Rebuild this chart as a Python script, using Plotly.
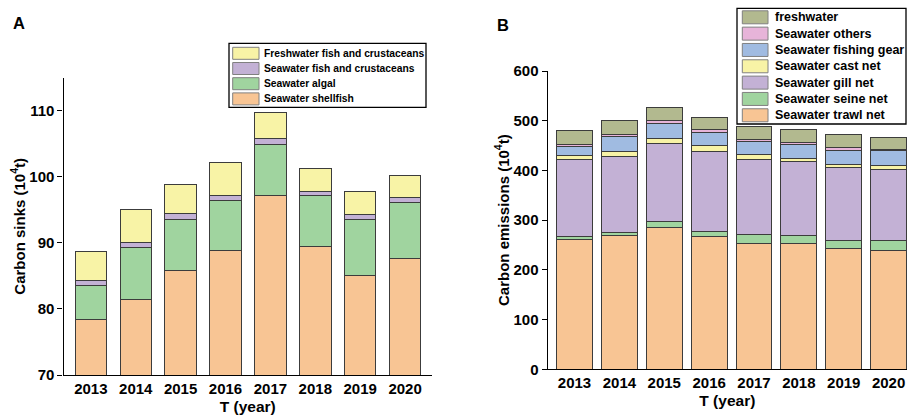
import plotly.graph_objects as go

W, H = 907, 415

years = ["2013", "2014", "2015", "2016", "2017", "2018", "2019", "2020"]

# Panel A: carbon sinks (10^4 t)
sink_shellfish = [78.4, 81.4, 85.8, 88.9, 97.2, 89.4, 85.1, 87.7]
sink_algal = [5.1, 7.9, 7.8, 7.5, 7.75, 7.7, 8.4, 8.4]
sink_sea_fish = [0.8, 0.8, 0.8, 0.8, 0.8, 0.7, 0.8, 0.8]
sink_fresh_fish = [4.4, 4.9, 4.4, 4.9, 3.95, 3.5, 3.5, 3.3]

sink_names = ["Seawater shellfish", "Seawater algal",
              "Seawater fish and crustaceans", "Freshwater fish and crustaceans"]
sink_series = [sink_shellfish, sink_algal, sink_sea_fish, sink_fresh_fish]

# Panel B: carbon emissions (10^4 t)
emi_trawl = [262, 269, 286, 267, 254, 254, 242, 239]
emi_seine = [5, 7, 12, 11, 17, 16, 18, 20]
emi_gill = [154, 153, 157, 161, 152, 148, 145, 143]
emi_cast = [10, 9, 10, 12, 9, 6, 6, 8]
emi_gear = [17, 30, 29, 26, 26, 29, 30, 30]
emi_others = [4, 3.5, 6, 5, 4, 4, 5, 3]
emi_fresh = [28, 28.5, 26, 25, 26, 26, 27, 24]

emi_names = ["Seawater trawl net", "Seawater seine net", "Seawater gill net",
             "Seawater cast net", "Seawater fishing gear", "Seawater others",
             "freshwater"]
emi_series = [emi_trawl, emi_seine, emi_gill, emi_cast, emi_gear, emi_others, emi_fresh]

ORANGE = "#F8C594"
GREEN = "#A0D49F"
PURPLE = "#C3B1D5"
YELLOW = "#F8F3A6"
BLUE = "#A0BBE1"
PINK = "#E7B4D9"
OLIVE = "#B2B98F"

sink_colors = [ORANGE, GREEN, PURPLE, YELLOW]
emi_colors = [ORANGE, GREEN, PURPLE, YELLOW, BLUE, PINK, OLIVE]

FONT = "Liberation Sans, Arial, sans-serif"
EDGE = "#3c3c3c"


def px(x):
    return x / W


def py(y):
    return 1 - y / H


fig = go.Figure()

for name, vals, col in zip(sink_names, sink_series, sink_colors):
    fig.add_trace(go.Bar(x=years, y=vals, name=name, width=0.7,
                         marker=dict(color=col, line=dict(color=EDGE, width=1)),
                         xaxis="x", yaxis="y", showlegend=False))

for name, vals, col in zip(emi_names, emi_series, emi_colors):
    fig.add_trace(go.Bar(x=years, y=vals, name=name, width=0.8,
                         marker=dict(color=col, line=dict(color=EDGE, width=1)),
                         xaxis="x2", yaxis="y2", showlegend=False))

tick_font = dict(family=FONT, size=15, color="black", weight="bold")
title_font = dict(family=FONT, size=15.5, color="black", weight="bold")
ytitle_font = dict(family=FONT, size=15, color="black", weight="bold")

common_x = dict(type="category", showline=True, linecolor="black", linewidth=1.3,
                ticks="", showgrid=False, zeroline=False, tickfont=tick_font,
                title_font=title_font, automargin=False)
common_y = dict(showline=True, linecolor="black", linewidth=1.3, ticks="outside",
                ticklen=5, tickwidth=1.3, tickcolor="black", showgrid=False,
                zeroline=False, tickfont=tick_font, title_font=ytitle_font,
                automargin=False)

fig.update_layout(
    template="none",
    width=W, height=H, autosize=False,
    margin=dict(l=0, r=0, t=0, b=0, pad=0),
    paper_bgcolor="white", plot_bgcolor="white",
    barmode="stack", bargap=0.3,
    font=dict(family=FONT, color="black"),
    xaxis=dict(common_x, domain=[px(63.5), px(432)], range=[-0.609, 7.60],
               anchor="y", title=dict(text="T (year)", standoff=4)),
    yaxis=dict(common_y, domain=[py(375), py(77.7)], range=[70, 115], dtick=10,
               anchor="x", title=dict(text="Carbon sinks (10<sup>4</sup>t)", standoff=0)),
    xaxis2=dict(common_x, domain=[px(547.7), 1.0], range=[-0.598, 7.41],
                anchor="y2", title=dict(text="T (year)", standoff=4)),
    yaxis2=dict(common_y, domain=[py(369.3), py(71)], range=[0, 600], dtick=100,
                anchor="x2", title=dict(text="Carbon emissions (10<sup>4</sup>t)", standoff=0)),
)

shapes = []
annotations = []


def draw_legend(names, colors, box, row0, step, sw_x, sw_h, text_x, fsize):
    x0, y0, x1, y1 = box
    shapes.append(dict(type="rect", xref="paper", yref="paper",
                       x0=px(x0), x1=px(x1), y0=py(y1), y1=py(y0),
                       line=dict(color="black", width=1.3), fillcolor="white"))
    # entries listed top-down in reverse stacking order
    for i, (name, col) in enumerate(zip(names[::-1], colors[::-1])):
        yc = row0 + i * step
        shapes.append(dict(type="rect", xref="paper", yref="paper",
                           x0=px(sw_x[0]), x1=px(sw_x[1]),
                           y0=py(yc + sw_h / 2), y1=py(yc - sw_h / 2),
                           line=dict(color="#808080", width=1), fillcolor=col))
        annotations.append(dict(xref="paper", yref="paper", x=px(text_x), y=py(yc),
                                xanchor="left", yanchor="middle", showarrow=False,
                                text=name,
                                font=dict(family=FONT, size=fsize, color="black",
                                          weight="bold")))


draw_legend(sink_names, sink_colors, (229, 43.3, 426, 107.3), 53.3, 15.2,
            (232.7, 259), 12, 262, 10.3)
draw_legend(emi_names, emi_colors, (737, 8.3, 906, 124), 17.3, 16.33,
            (742.3, 768), 13, 772.5, 12.5)

for letter, x, y in (("A", 19.2, 23.3), ("B", 502.7, 25)):
    annotations.append(dict(xref="paper", yref="paper", x=px(x), y=py(y),
                            xanchor="center", yanchor="middle", showarrow=False,
                            text=letter,
                            font=dict(family=FONT, size=16.5, color="black",
                                      weight="bold")))

fig.update_layout(shapes=shapes, annotations=annotations)

fig.write_html("out.html")
